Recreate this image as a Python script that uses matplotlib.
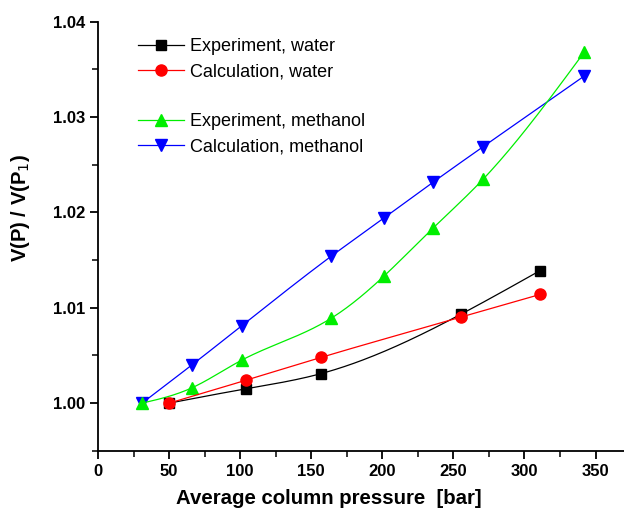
import numpy as np
from matplotlib import pyplot as plt
from matplotlib.lines import Line2D

# data
p_water = [50, 104, 157, 255, 311]
exp_water = [1.0000, 1.0015, 1.0031, 1.0093, 1.0139]
calc_water = [1.0000, 1.0024, 1.0048, 1.0090, 1.0114]

p_meoh = [31, 66, 101, 164, 201, 236, 271, 342]
exp_meoh = [1.0000, 1.0016, 1.0045, 1.0089, 1.0133, 1.0184, 1.0235, 1.0368]
calc_meoh = [1.0000, 1.0040, 1.0081, 1.0154, 1.0194, 1.0232, 1.0269, 1.0343]

plt.rcParams['font.family'] = ['Liberation Sans', 'DejaVu Sans']


def spline(x, y, n=200):
    # natural cubic spline, only used to draw the smooth connecting line
    x = np.asarray(x, float)
    y = np.asarray(y, float)
    k = len(x)
    h = np.diff(x)
    A = np.zeros((k, k))
    b = np.zeros(k)
    A[0, 0] = A[-1, -1] = 1
    for i in range(1, k - 1):
        A[i, i - 1] = h[i - 1]
        A[i, i] = 2 * (h[i - 1] + h[i])
        A[i, i + 1] = h[i]
        b[i] = 6 * ((y[i + 1] - y[i]) / h[i] - (y[i] - y[i - 1]) / h[i - 1])
    m = np.linalg.solve(A, b)
    xs = np.linspace(x[0], x[-1], n)
    idx = np.clip(np.searchsorted(x, xs) - 1, 0, k - 2)
    x0, x1 = x[idx], x[idx + 1]
    hh = x1 - x0
    t0, t1 = x1 - xs, xs - x0
    ys = (m[idx] * t0 ** 3 + m[idx + 1] * t1 ** 3) / (6 * hh) \
        + (y[idx] / hh - m[idx] * hh / 6) * t0 \
        + (y[idx + 1] / hh - m[idx + 1] * hh / 6) * t1
    return xs, ys


fig = plt.figure(figsize=(6.24, 5.17), dpi=100)
ax = fig.add_axes([0.157, 0.128, 0.843, 0.83])

series = [
    (p_meoh, calc_meoh, 'blue', 'v', 9, 'Calculation, methanol'),
    (p_meoh, exp_meoh, '#00ee00', '^', 9, 'Experiment, methanol'),
    (p_water, exp_water, 'black', 's', 7, 'Experiment, water'),
    (p_water, calc_water, 'red', 'o', 8, 'Calculation, water'),
]
handles = {}
for x, y, c, m, ms, lab in series:
    xs, ys = spline(x, y)
    ax.plot(xs, ys, color=c, lw=0.9)
    ax.plot(x, y, ls='none', marker=m, ms=ms, color=c, mec=c)
    handles[lab] = Line2D([], [], color=c, lw=0.9, marker=m, ms=ms, mec=c)

blank = Line2D([], [], color='none')
order = ['Experiment, water', 'Calculation, water', None,
         'Experiment, methanol', 'Calculation, methanol']
hs = [handles[k] if k else blank for k in order]
ls = [k if k else ' ' for k in order]
ax.legend(hs, ls, loc='upper left', bbox_to_anchor=(0.045, 1.0), frameon=False,
          fontsize=13, handlelength=2.55, labelspacing=0.45, handletextpad=0.33)

ax.set_xlim(0, 370)
ax.set_ylim(0.995, 1.04)
ax.set_xticks(np.arange(0, 351, 50))
ax.set_xticks(np.arange(25, 370, 50), minor=True)
ax.set_yticks([1.00, 1.01, 1.02, 1.03, 1.04])
ax.set_yticks([0.995, 1.005, 1.015, 1.025, 1.035], minor=True)
ax.set_yticklabels(['1.00', '1.01', '1.02', '1.03', '1.04'])
for lab in ax.get_xticklabels() + ax.get_yticklabels():
    lab.set_fontweight('bold')
ax.tick_params(which='major', length=6, width=1.3, labelsize=12, direction='out')
ax.tick_params(which='minor', length=4, width=1.1, direction='out')
ax.spines['top'].set_visible(False)
ax.spines['right'].set_visible(False)
ax.spines['left'].set_linewidth(1.3)
ax.spines['bottom'].set_linewidth(1.3)

ax.set_xlabel('Average column pressure  [bar]', fontsize=14.7, fontweight='bold')
ax.set_ylabel('V(P) / V(P$_1$)', fontsize=14.5, fontweight='bold')
ax.xaxis.set_label_coords(0.439, -0.088)
ax.yaxis.set_label_coords(-0.125, 0.566)

fig.savefig('out.png', dpi=100)
